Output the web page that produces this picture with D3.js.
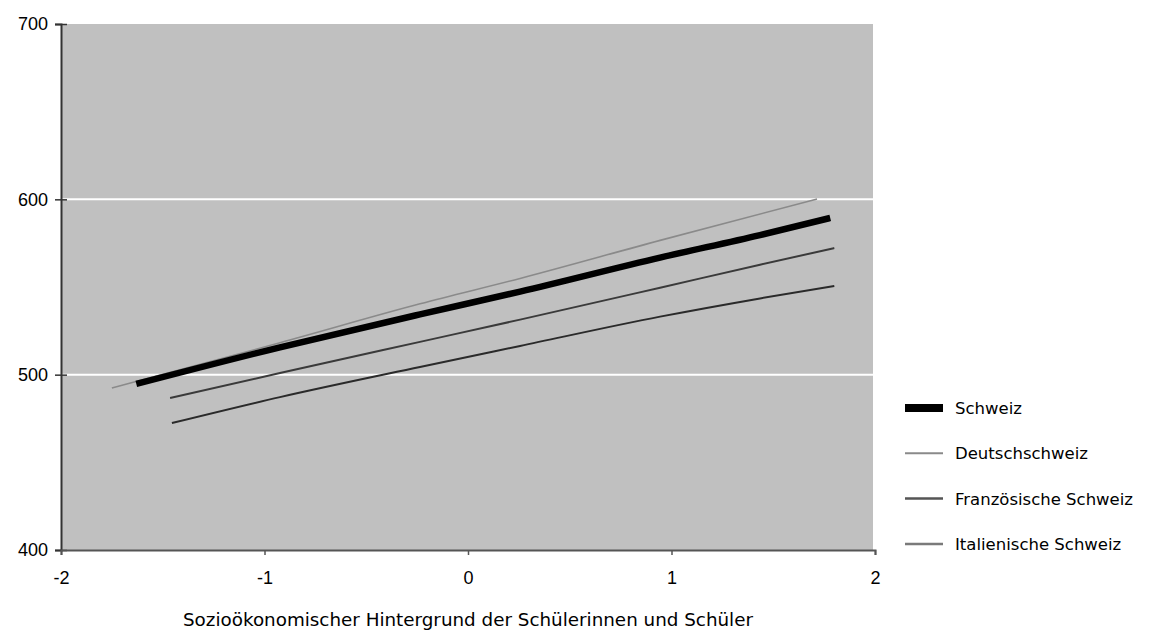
<!DOCTYPE html>
<html><head><meta charset="utf-8">
<script src="https://cdn.jsdelivr.net/npm/d3@7"></script>
<style>body{margin:0;background:#fff}</style>
</head><body>
<svg id="c" width="1150" height="630"></svg>
<script>
const seriesNames = ["Schweiz", "Deutschschweiz", "Französische Schweiz", "Italienische Schweiz"];
const xTicks = [-2, -1, 0, 1, 2];
const yTicks = [400, 500, 600, 700];
const schweizX = [-1.63, -0.924, -0.236, 0.256, 0.944, 1.435, 1.78];
const schweizY = [494.7, 515.6, 534.4, 547.4, 566.8, 579.6, 589.4];
const deutschX = [-1.75, -0.924, -0.236, 0.256, 0.944, 1.715];
const deutschY = [492.4, 518.2, 540.4, 554.9, 576.6, 600.2];
const franzX = [-1.455, -0.924, -0.236, 0.256, 0.944, 1.435, 1.8];
const franzY = [472.4, 487.2, 504.4, 516.4, 533.1, 543.5, 550.6];
const italX = [-1.464, -0.924, -0.236, 0.256, 0.944, 1.435, 1.8];
const italY = [486.7, 500.9, 518.7, 531.4, 549.6, 562.7, 572.2];
const xTitle = "Sozioökonomischer Hintergrund der Schülerinnen und Schüler";

const series = [
  {name: seriesNames[1], xs: deutschX, ys: deutschY, color: "#8a8a8a", w: 1.6},
  {name: seriesNames[3], xs: italX, ys: italY, color: "#3a3a3a", w: 2},
  {name: seriesNames[2], xs: franzX, ys: franzY, color: "#2a2a2a", w: 2},
  {name: seriesNames[0], xs: schweizX, ys: schweizY, color: "#000", w: 6.5}
];
const legendItems = [
  {name: seriesNames[0], color: "#000", w: 8},
  {name: seriesNames[1], color: "#8a8a8a", w: 2},
  {name: seriesNames[2], color: "#555", w: 2.5},
  {name: seriesNames[3], color: "#7a7a7a", w: 2.5}
];

const svg = d3.select("#c");
const L = 61, R = 875, T = 24, B = 550;
const x = d3.scaleLinear().domain([-2, 2]).range([L, R]);
const y = d3.scaleLinear().domain([400, 700]).range([B, T]);

svg.append("rect").attr("x", L).attr("y", T).attr("width", 873 - L).attr("height", B - T).attr("fill", "#c0c0c0");

svg.append("g").selectAll("line").data(yTicks.filter(d => d > 400 && d < 700)).join("line")
  .attr("x1", L).attr("x2", 873).attr("y1", d => y(d)).attr("y2", d => y(d))
  .attr("stroke", "#fff").attr("stroke-width", 2);

const line = d3.line().x(d => x(d[0])).y(d => y(d[1])).curve(d3.curveMonotoneX);
series.forEach(s => {
  svg.append("path").datum(s.xs.map((v, i) => [v, s.ys[i]]))
    .attr("d", line).attr("fill", "none").attr("stroke", s.color)
    .attr("stroke-width", s.w).attr("stroke-linecap", "butt");
});

const font = "'DejaVu Sans', sans-serif";
const tickFont = "'Liberation Sans', Arial, sans-serif";
const yAxis = svg.append("g").attr("transform", `translate(${L},0)`)
  .call(d3.axisLeft(y).tickValues(yTicks).tickSize(6).tickFormat(d3.format("d")));
yAxis.select(".domain").attr("stroke", "#333").attr("stroke-width", 2);
yAxis.selectAll(".tick line").attr("stroke", "#333").attr("stroke-width", 1.5).attr("x2", 6).attr("x1", -6);
yAxis.selectAll(".tick text").attr("font-family", tickFont).attr("font-size", 18).attr("fill", "#000").attr("x", -13);

const xAxis = svg.append("g").attr("transform", `translate(0,${B})`)
  .call(d3.axisBottom(x).tickValues(xTicks).tickSize(5).tickFormat(d3.format("d")));
xAxis.select(".domain").attr("stroke", "#555").attr("stroke-width", 2);
xAxis.selectAll(".tick line").attr("stroke", "#555").attr("stroke-width", 1.5);
xAxis.selectAll(".tick text").attr("font-family", tickFont).attr("font-size", 18).attr("fill", "#000").attr("y", 21);
xAxis.selectAll(".tick text").text(d => d < 0 ? "-" + Math.abs(d) : d);

svg.append("text").attr("x", (L + R) / 2).attr("y", 626).attr("text-anchor", "middle")
  .attr("font-family", font).attr("font-size", 18).attr("fill", "#000")
  .attr("textLength", 570).attr("lengthAdjust", "spacingAndGlyphs").text(xTitle);

const lg = svg.append("g").selectAll("g").data(legendItems).join("g")
  .attr("transform", (d, i) => `translate(905,${408 + i * 45.3})`);
lg.append("line").attr("x1", 0).attr("x2", 38).attr("y1", 0).attr("y2", 0)
  .attr("stroke", d => d.color).attr("stroke-width", d => d.w);
lg.append("text").attr("x", 50).attr("y", 0).attr("dy", "0.36em")
  .attr("font-family", font).attr("font-size", 16.5).attr("fill", "#000").text(d => d.name);
</script>
</body></html>
